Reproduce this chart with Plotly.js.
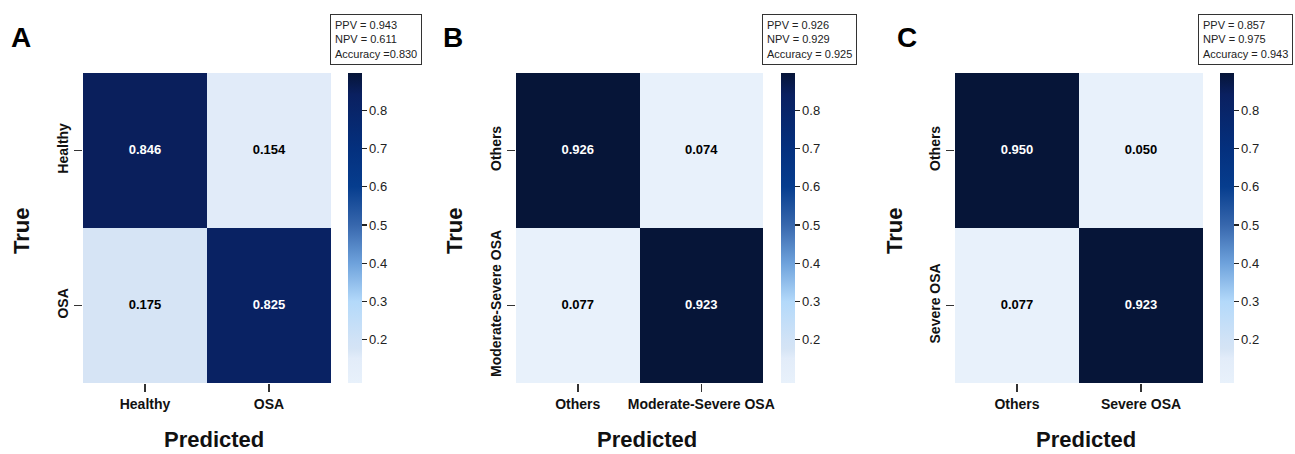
<!DOCTYPE html>
<html>
<head>
<meta charset="utf-8">
<script src="https://cdn.plot.ly/plotly-3.0.1.min.js"></script>
<style>html,body{margin:0;padding:0;background:#fff;}#chart{width:1295px;height:454px;}</style>
</head>
<body>
<div id="chart"></div>
<script>
// ---- data ----
const panelLetters = ["A", "B", "C"];
const labelsA = ["Healthy", "OSA"];
const labelsB = ["Others", "Moderate-Severe OSA"];
const labelsC = ["Others", "Severe OSA"];
const valuesA = [[0.846, 0.154], [0.175, 0.825]];
const valuesB = [[0.926, 0.074], [0.077, 0.923]];
const valuesC = [[0.950, 0.050], [0.077, 0.923]];
const ppv = [0.943, 0.926, 0.857];
const npv = [0.611, 0.929, 0.975];
const accuracy = [0.830, 0.925, 0.943];
const accuracySep = ["=", "= ", "= "];
const colorbarTicks = [0.2, 0.3, 0.4, 0.5, 0.6, 0.7, 0.8];

// ---- layout helpers ----
const W = 1295, H = 454;
const FONT = "Arial, 'Liberation Sans', sans-serif";
const px = v => v / W;
const py = v => 1 - v / H;
const zmin = 0.087, zmax = 0.897;
const cscale = [
  [0.0, "#e8f1fb"],
  [0.08, "#e2ecf9"],
  [0.11, "#d5e4f5"],
  [0.14, "#d0e2f6"],
  [0.263, "#b3d9fa"],
  [0.386, "#6ea2dc"],
  [0.51, "#3767ad"],
  [0.633, "#063d8e"],
  [0.757, "#04307e"],
  [0.93, "#0a2060"],
  [1.0, "#061538"]
];

const panels = [
  {labels: labelsA, values: valuesA, hx: [83, 331], cbx: 348, box: 330, letterX: 21, trueX: 22},
  {labels: labelsB, values: valuesB, hx: [516, 763], cbx: 781, box: 762, letterX: 453, trueX: 455},
  {labels: labelsC, values: valuesC, hx: [955, 1203], cbx: 1220, box: 1198, letterX: 907, trueX: 895}
];
const hy = [73, 383];

const data = [];
const layout = {
  width: W, height: H,
  margin: {l: 0, r: 0, t: 0, b: 0},
  paper_bgcolor: "#fff", plot_bgcolor: "#fff",
  font: {family: FONT, color: "#111"},
  showlegend: false,
  annotations: []
};

panels.forEach((p, i) => {
  const sfx = i === 0 ? "" : String(i + 1);
  const xa = "x" + sfx, ya = "y" + sfx;
  data.push({
    type: "heatmap",
    x: p.labels, y: p.labels, z: p.values,
    xaxis: xa, yaxis: ya,
    zmin: zmin, zmax: zmax,
    colorscale: cscale,
    hoverinfo: "skip",
    colorbar: {
      x: px(p.cbx), xanchor: "left", xpad: 0,
      y: py(hy[1]), yanchor: "bottom", ypad: 0,
      len: (hy[1] - hy[0]) / H, lenmode: "fraction",
      thickness: 14, outlinewidth: 0,
      tickvals: colorbarTicks, ticks: "outside", ticklen: 5, tickwidth: 1.2, tickcolor: "#222",
      tickfont: {family: FONT, size: 13, color: "#222"}
    }
  });
  // cell value labels
  const tx = [], ty = [], tt = [], tc = [];
  p.values.forEach((row, r) => row.forEach((v, c) => {
    tx.push(p.labels[c]); ty.push(p.labels[r]);
    tt.push(v.toFixed(3)); tc.push(v > 0.5 ? "#ffffff" : "#000000");
  }));
  data.push({
    type: "scatter", mode: "text", x: tx, y: ty, text: tt,
    xaxis: xa, yaxis: ya, hoverinfo: "skip",
    textfont: {family: FONT, size: 13, color: tc, weight: "bold"}
  });
  layout["xaxis" + sfx] = {
    domain: [px(p.hx[0]), px(p.hx[1])], anchor: ya,
    type: "category", range: [-0.5, 1.5],
    showgrid: false, zeroline: false, showline: false,
    ticks: "outside", ticklen: 8, tickwidth: 1.5, tickcolor: "#333",
    tickfont: {family: FONT, size: 14, color: "#111", weight: "bold"},
    fixedrange: true
  };
  layout["yaxis" + sfx] = {
    domain: [py(hy[1]), py(hy[0])], anchor: xa,
    type: "category", range: [1.5, -0.5],
    showgrid: false, zeroline: false, showline: false,
    ticks: "outside", ticklen: 8, tickwidth: 1.5, tickcolor: "#333",
    tickangle: -90,
    tickfont: {family: FONT, size: 14, color: "#111", weight: "bold"},
    fixedrange: true
  };
  // panel letter
  layout.annotations.push({
    xref: "paper", yref: "paper", x: px(p.letterX), y: py(38),
    xanchor: "center", yanchor: "middle", showarrow: false,
    text: panelLetters[i], font: {family: FONT, size: 28, color: "#000", weight: "bold"}
  });
  // axis titles
  layout.annotations.push({
    xref: "paper", yref: "paper", x: px((p.hx[0] + p.hx[1]) / 2 + 7), y: 0,
    xanchor: "center", yanchor: "bottom", showarrow: false,
    text: "Predicted", font: {family: FONT, size: 22, color: "#111", weight: "bold"}
  });
  layout.annotations.push({
    xref: "paper", yref: "paper", x: px(p.trueX), y: py(231),
    xanchor: "center", yanchor: "middle", showarrow: false, textangle: -90,
    text: "True", font: {family: FONT, size: 22, color: "#111", weight: "bold"}
  });
  // metrics box
  layout.annotations.push({
    xref: "paper", yref: "paper", x: px(p.box), y: py(14),
    xanchor: "left", yanchor: "top", showarrow: false, align: "left",
    bordercolor: "#333", borderwidth: 1, borderpad: 4, bgcolor: "#fff",
    text: "PPV = " + ppv[i].toFixed(3) + "<br>NPV = " + npv[i].toFixed(3) +
          "<br>Accuracy " + accuracySep[i] + accuracy[i].toFixed(3),
    font: {family: FONT, size: 11, color: "#222"}
  });
});

Plotly.newPlot("chart", data, layout, {displayModeBar: false, staticPlot: true});
</script>
</body>
</html>
